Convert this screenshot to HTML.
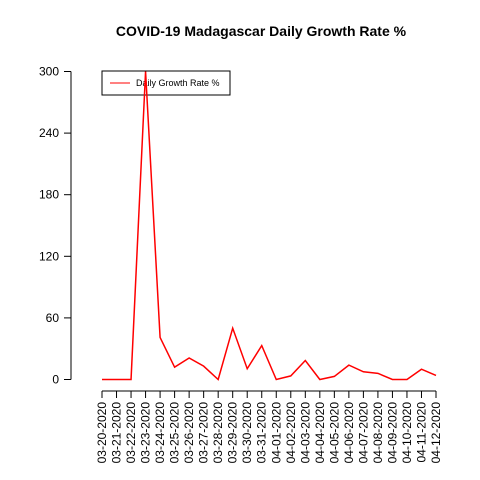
<!DOCTYPE html>
<html><head><meta charset="utf-8"><style>
body{margin:0;background:#fff;}
svg{display:block;font-family:"Liberation Sans",sans-serif;}
</style></head><body>
<svg id="chart" width="480" height="480">
<text x="261" y="36" text-anchor="middle" font-size="14" font-weight="bold">COVID-19 Madagascar Daily Growth Rate %</text>
<g id="yaxis"></g>
<g id="xaxis"></g>
<g>
<rect x="102" y="71" width="128" height="24" fill="none" stroke="#000"/>
<line x1="110" y1="83" x2="130" y2="83" stroke="#ff0000"/>
<text x="136" y="86" font-size="9">Daily Growth Rate %</text>
</g>
<polyline id="line" fill="none" stroke="#ff0000" stroke-width="1.5"/>
</svg>
<script>
const categories=["03-20-2020","03-21-2020","03-22-2020","03-23-2020","03-24-2020","03-25-2020","03-26-2020","03-27-2020","03-28-2020","03-29-2020","03-30-2020","03-31-2020","04-01-2020","04-02-2020","04-03-2020","04-04-2020","04-05-2020","04-06-2020","04-07-2020","04-08-2020","04-09-2020","04-10-2020","04-11-2020","04-12-2020"];
const values=[0,0,0,300,41,12,21,13,0,50,10.5,33,0,3.5,18.5,0,3,14,7.5,6,0,0,10,4];
const yTicks=[0,60,120,180,240,300];
const NS="http://www.w3.org/2000/svg";
const x=i=>102+i*(436-102)/(categories.length-1);
const y=v=>379.5-v*(308/300);
const ya=document.getElementById('yaxis'),xa=document.getElementById('xaxis');
function mk(tag,attrs,parent){const e=document.createElementNS(NS,tag);for(const k in attrs)e.setAttribute(k,attrs[k]);parent.appendChild(e);return e;}
let l=mk('line',{x1:71,x2:71,y1:y(300),y2:y(0),stroke:'#000'},ya);


yTicks.forEach(t=>{
 const tk=mk('line',{x1:64,x2:71,y1:y(t),y2:y(t),stroke:'#000'},ya);
 
 
 const tx=mk('text',{x:59,y:y(t)+4,'text-anchor':'end','font-size':12},ya);
 
 
 tx.textContent=t;
});
l=mk('line',{x1:x(0),x2:x(categories.length-1),y1:391,y2:391,stroke:'#000'},xa);


categories.forEach((c,i)=>{
 const tk=mk('line',{x1:x(i),x2:x(i),y1:391,y2:398,stroke:'#000'},xa);
 
 
 const tx=mk('text',{transform:`translate(${x(i)+4},402) rotate(-90)`,'text-anchor':'end','font-size':12},xa);
 
 
 tx.textContent=c;
});
document.getElementById('line').setAttribute('points',values.map((v,i)=>x(i)+','+y(v)).join(' '));
</script>
</body></html>
